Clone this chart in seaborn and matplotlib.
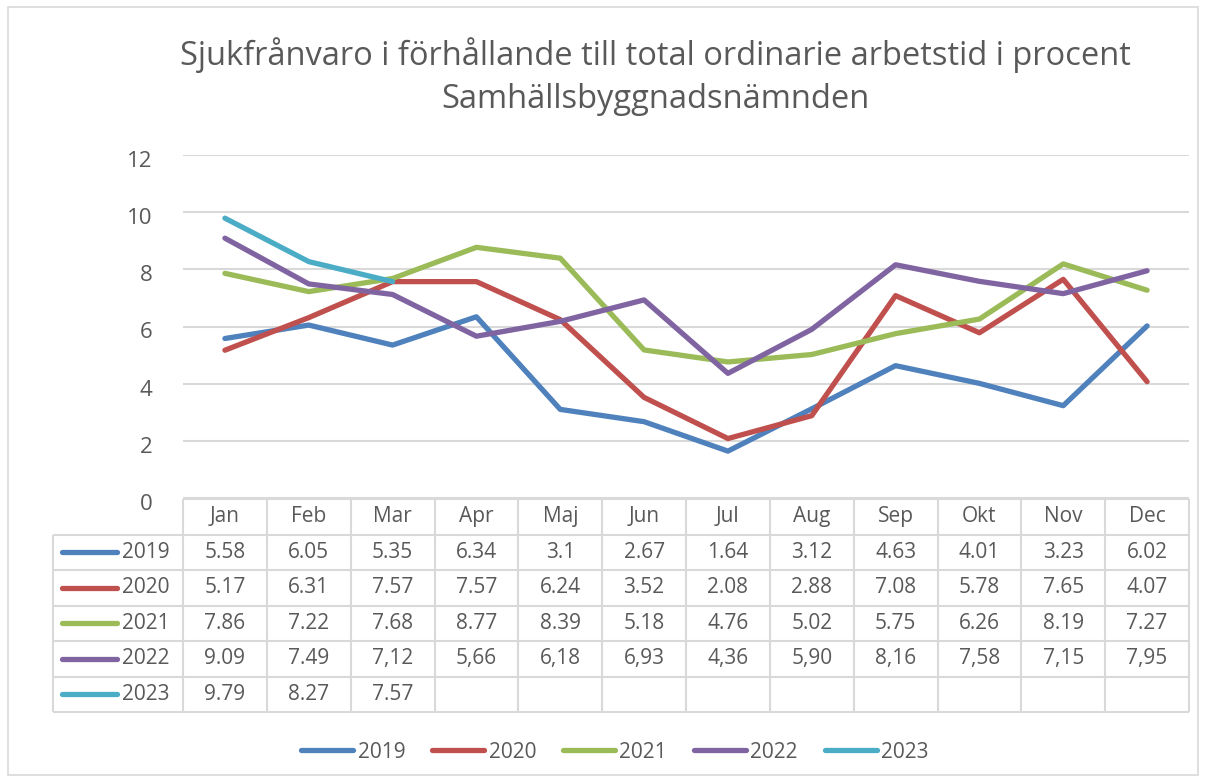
"""
Sjukfrånvaro per månad - linjediagram med datatabell under.
"""

import matplotlib.pyplot as plt
import matplotlib.transforms as mtransforms
import pandas as pd
import seaborn as sns
from matplotlib.lines import Line2D
from matplotlib.patches import Rectangle

months = ["Jan", "Feb", "Mar", "Apr", "Maj", "Jun",
          "Jul", "Aug", "Sep", "Okt", "Nov", "Dec"]
years = ["2019", "2020", "2021", "2022", "2023"]

v2019 = [5.58, 6.05, 5.35, 6.34, 3.1, 2.67, 1.64, 3.12, 4.63, 4.01, 3.23, 6.02]
v2020 = [5.17, 6.31, 7.57, 7.57, 6.24, 3.52, 2.08, 2.88, 7.08, 5.78, 7.65, 4.07]
v2021 = [7.86, 7.22, 7.68, 8.77, 8.39, 5.18, 4.76, 5.02, 5.75, 6.26, 8.19, 7.27]
v2022 = [9.09, 7.49, 7.12, 5.66, 6.18, 6.93, 4.36, 5.90, 8.16, 7.58, 7.15, 7.95]
v2023 = [9.79, 8.27, 7.57]

# 2022 skrivs med decimalkomma fran mars i tabellen
comma_from = {"2022": 2}

colors = {
    "2019": "#4f81bd",
    "2020": "#c0504d",
    "2021": "#9bbb59",
    "2022": "#8064a2",
    "2023": "#4bacc6",
}

series = dict(zip(years, [v2019, v2020, v2021, v2022, v2023]))

rows = []
for year, vals in series.items():
    for m, v in zip(months, vals):
        rows.append({"Månad": m, "År": year, "Procent": v})
df = pd.DataFrame(rows)


def cell_text(year, idx, v):
    if year in comma_from and idx >= comma_from[year]:
        return f"{v:.2f}".replace(".", ",")
    return repr(v)


sns.set_theme(style="white")
plt.rcParams["font.family"] = ["Open Sans", "DejaVu Sans"]
text_color = "#595959"
grid_color = "#d9d9d9"
fs = 15

fig = plt.figure(figsize=(12.06, 7.8), dpi=100)

# ram runt hela diagrammet
fig.patches.append(Rectangle((8 / 1206, 5 / 780), 1190 / 1206, 768 / 780,
                             transform=fig.transFigure, fill=False,
                             edgecolor=grid_color, linewidth=1.2))

ax = fig.add_axes([183 / 1206, 1 - 498 / 780, 1006 / 1206, 343 / 780])
sns.lineplot(data=df, x="Månad", y="Procent", hue="År", palette=colors,
             sort=False, linewidth=3.8, legend=False, ax=ax,
             solid_capstyle="round")

ax.set_xlim(-0.5, 11.5)
ax.set_ylim(0, 12)
ax.set_yticks(range(0, 13, 2))
ax.set_xticks([])
ax.set_xlabel("")
ax.set_ylabel("")
ax.grid(axis="y", color=grid_color, linewidth=1.5)
ax.set_axisbelow(True)
for s in ax.spines.values():
    s.set_visible(False)
ax.tick_params(axis="y", length=0, pad=22, labelsize=16, labelcolor=text_color)
shift = mtransforms.ScaledTranslation(0, -4 / 100, fig.dpi_scale_trans)
for lbl in ax.get_yticklabels():
    lbl.set_transform(lbl.get_transform() + shift)

# datatabell
label_w = 130 / 83.83
tax = fig.add_axes([53 / 1206, 1 - 712 / 780, 1136 / 1206, 213 / 780])
tax.set_xlim(-0.5 - label_w, 11.5)
tax.set_ylim(6, 0)
tax.axis("off")

lkw = dict(color=grid_color, linewidth=1.5, clip_on=False)
tax.hlines(0, -0.5, 11.5, **lkw)
tax.hlines(range(1, 7), -0.5 - label_w, 11.5, **lkw)
tax.vlines([i - 0.5 for i in range(13)], 0, 6, **lkw)
tax.vlines(-0.5 - label_w, 1, 6, **lkw)

for i, m in enumerate(months):
    tax.text(i, 0.5, m, ha="center", va="center", fontsize=fs, color=text_color)

for r, year in enumerate(years, start=1):
    tax.add_line(Line2D([-1.943, -1.287], [r + 0.5, r + 0.5],
                        color=colors[year], linewidth=3.8,
                        solid_capstyle="round"))
    tax.text(-1.228, r + 0.5, year, ha="left", va="center",
             fontsize=fs, color=text_color)
    for i, v in enumerate(series[year]):
        tax.text(i, r + 0.5, cell_text(year, i, v), ha="center", va="center",
                 fontsize=fs, color=text_color)

# titel
fig.text(655 / 1206, 1 - 55 / 780,
         "Sjukfrånvaro i förhållande till total ordinarie arbetstid i procent",
         ha="center", va="center", fontsize=23.5, color=text_color)
fig.text(655 / 1206, 1 - 100 / 780, "Samhällsbyggnadsnämnden",
         ha="center", va="center", fontsize=23.5, color=text_color)

# förklaring
handles = [Line2D([], [], color=colors[y], linewidth=3.8,
                  solid_capstyle="round") for y in years]
leg = fig.legend(handles, years, loc="center", ncol=5, frameon=False,
                 bbox_to_anchor=(615 / 1206, 1 - 752 / 780), fontsize=fs,
                 handlelength=2.5, handletextpad=0.2, columnspacing=1.3)
for t in leg.get_texts():
    t.set_color(text_color)

fig.savefig("out.png", dpi=100)
